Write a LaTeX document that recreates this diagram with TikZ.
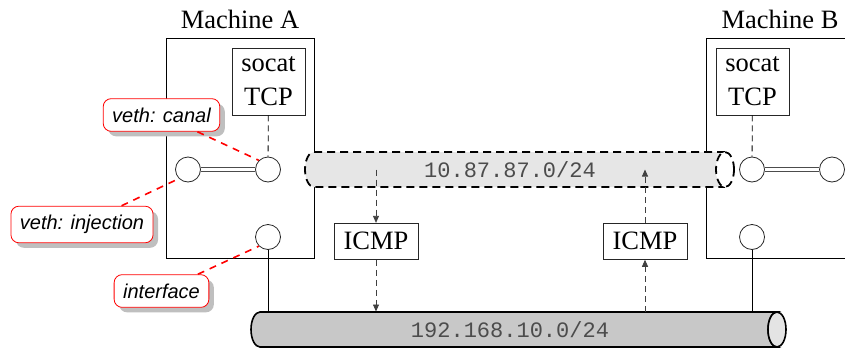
\documentclass[tikz,border=0pt]{standalone}
\usepackage{fontspec}
\setmainfont{Liberation Serif}
\newfontfamily\calfont{Liberation Sans}
\setmonofont{Liberation Mono}
\usetikzlibrary{arrows.meta,shadows,calc}
\definecolor{tunfill}{HTML}{E6E6E6}
\definecolor{busfill}{HTML}{C8C8C8}
\definecolor{busend}{HTML}{E4E4E4}
\tikzset{
  machbox/.style={draw=black, line width=0.9pt, minimum width=148pt, minimum height=220pt, inner sep=0pt},
  machlabel/.style={anchor=base, font=\fontsize{26.5}{32}\selectfont},
  procbox/.style={draw=black!85, line width=0.9pt, fill=white, inner sep=0pt, align=center, font=\fontsize{26.5}{34}\selectfont},
  port/.style={circle, draw=black!85, fill=white, line width=0.8pt, minimum size=25pt, inner sep=0pt},
  callout/.style={draw=red, line width=0.8pt, fill=white, rounded corners=8pt, inner sep=9pt,
    font=\calfont\itshape\fontsize{20}{24}\selectfont,
    drop shadow={shadow xshift=5pt, shadow yshift=-5pt, fill=black!25, opacity=1}},
  redlink/.style={draw=red, line width=1.6pt, dash pattern=on 7pt off 6pt},
  sockdash/.style={draw=black, line width=0.8pt, dash pattern=on 6pt off 4pt},
  flow/.style={draw=black!75, line width=0.8pt, dash pattern=on 6pt off 4pt, -{Triangle[length=7pt,width=6pt]}},
  tundash/.style={draw=black, line width=1.8pt, dash pattern=on 8pt off 5pt},
  netlabel/.style={font=\ttfamily\fontsize{22}{26}\selectfont, text=black!70},
  vethlink/.style={draw=black!70, line width=1pt, double=white, double distance=2.2pt},
}
\begin{document}
\begin{tikzpicture}[x=1pt,y=1pt]
\useasboundingbox (0,0) rectangle (845,349);
\clip (0,0) rectangle (845,349);

% machines
\node[machbox] (mA) at (240,201) {};
\node[machbox] (mB) at (780,201) {};
\node[machlabel] (labA) at (240,320.5) {Machine A};
\node[machlabel] (labB) at (780,320.5) {Machine B};

% socat processes
\node[procbox, minimum width=73pt, minimum height=67pt] (sA) at (268.5,267.5) {socat\\TCP};
\node[procbox, minimum width=73pt, minimum height=67pt] (sB) at (752.5,267.5) {socat\\TCP};

% tunnel 10.87.87.0/24
\fill[tunfill] (314,197) -- (725,197) arc[start angle=90, end angle=270, x radius=9, y radius=17.5]
  -- (314,162) arc[start angle=270, end angle=90, x radius=9, y radius=17.5] -- cycle;
\draw[tundash] (725,197) -- (314,197) arc[start angle=90, end angle=270, x radius=9, y radius=17.5] -- (725,162);
\draw[tundash, fill=white] (725,179.5) ellipse[x radius=9, y radius=17.5];
\node[netlabel] (tun) at (510,179.5) {10.87.87.0/24};

% bus 192.168.10.0/24
\draw[fill=busfill, line width=1.6pt] (260,37) -- (777,37) arc[start angle=90, end angle=270, x radius=9, y radius=17.5]
  -- (260,2) arc[start angle=270, end angle=90, x radius=9, y radius=17.5] -- cycle;
\draw[fill=busend, line width=1.6pt] (777,19.5) ellipse[x radius=9, y radius=17.5];
\node[netlabel] (bus) at (510,19.5) {192.168.10.0/24};

% ports
\node[port] (cL) at (188,179.5) {};
\node[port] (cA) at (268,179.5) {};
\node[port] (iA) at (268,112) {};
\node[port] (cB) at (752,179.5) {};
\node[port] (cR) at (832,179.5) {};
\node[port] (iB) at (752,112) {};

\draw[vethlink] (cL) -- (cA);
\draw[vethlink] (cB) -- (cR);
\draw[sockdash] (sA) -- (cA);
\draw[sockdash] (sB) -- (cB);

% links to bus
\coordinate (busA) at (268,37);
\coordinate (busB) at (752,37);
\draw[line width=0.8pt] (iA) -- (busA);
\draw[line width=0.8pt] (iB) -- (busB);

% ICMP
\node[procbox, minimum width=84pt, minimum height=36pt] (icL) at (376,107.7) {ICMP};
\node[procbox, minimum width=84pt, minimum height=36pt] (icR) at (645,107.7) {ICMP};
\coordinate (tunL) at (376,179.5);
\coordinate (tunR) at (645,179.5);
\coordinate (busL) at (376,37.5);
\coordinate (busR) at (645,37.5);
\draw[flow] (tunL) -- (icL);
\draw[flow] (icL) -- (busL);
\draw[flow] (icR) -- (tunR);
\draw[flow] (busR) -- (icR);

% callouts
\node[callout] (canal) at (161.5,234) {veth: canal};
\node[callout] (inj) at (82,124.5) {veth: injection};
\node[callout] (intf) at (161.5,58) {interface};
\draw[redlink] (canal) -- (cA.north west);
\draw[redlink] (inj) -- (cL.south west);
\draw[redlink] (intf) -- (iA.south west);
\end{tikzpicture}
\end{document}
